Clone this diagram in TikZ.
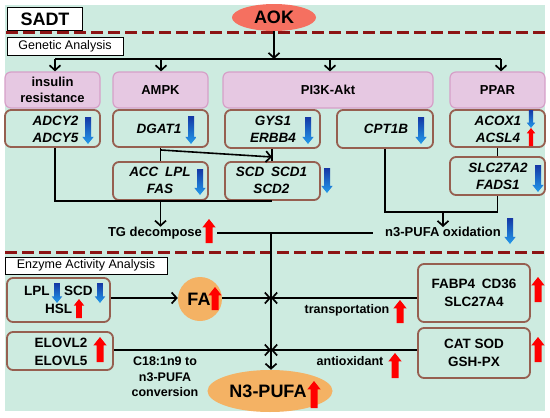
\documentclass[tikz,border=0pt]{standalone}
\usepackage{fontspec}
\setmainfont{Liberation Sans}
\usetikzlibrary{arrows.meta,shapes.geometric}
\definecolor{bgc}{RGB}{205,235,224}
\definecolor{pinkf}{RGB}{230,200,226}
\definecolor{pinkb}{RGB}{214,160,200}
\definecolor{brownb}{RGB}{150,95,80}
\definecolor{dashc}{RGB}{140,20,20}
\definecolor{aokc}{RGB}{245,112,96}
\definecolor{orc}{RGB}{244,178,100}
\definecolor{btop}{RGB}{20,55,165}
\definecolor{bbot}{RGB}{35,155,235}
% down blue arrow: x, ytop, ybottom, shaft half width
\newcommand\bdn[4]{%
  \shade[top color=btop,bottom color=bbot]
    ({#1-#4},{#2}) -- ({#1+#4},{#2}) -- ({#1+#4},{#3-2.4*#4}) -- ({#1+1.9*#4},{#3-2.4*#4})
    -- ({#1},{#3}) -- ({#1-1.9*#4},{#3-2.4*#4}) -- ({#1-#4},{#3-2.4*#4}) -- cycle;}
% up red arrow: x, ytop, ybottom, shaft half width
\newcommand\rup[4]{%
  \fill[red]
    ({#1-#4},{#3}) -- ({#1+#4},{#3}) -- ({#1+#4},{#2+2.4*#4}) -- ({#1+1.9*#4},{#2+2.4*#4})
    -- ({#1},{#2}) -- ({#1-1.9*#4},{#2+2.4*#4}) -- ({#1-#4},{#2+2.4*#4}) -- cycle;}
\begin{document}
\begin{tikzpicture}[x=1pt,y=-1pt,
  pinkbox/.style={draw=pinkb,fill=pinkf,line width=1.2pt,rounded corners=6pt,minimum height=36pt,inner sep=0pt,
    font=\bfseries\fontsize{13}{15.5}\selectfont,align=center},
  genebox/.style={draw=brownb,line width=1.8pt,rounded corners=6pt,inner sep=0pt},
  gtxt/.style={font=\bfseries\itshape\fontsize{13.5}{17}\selectfont,inner sep=0pt,align=center},
  etxt/.style={font=\bfseries\fontsize{13.5}{18}\selectfont,inner sep=0pt,align=center},
  ltxt/.style={font=\bfseries\fontsize{12.5}{15.5}\selectfont,inner sep=0pt,align=center},
  whitebox/.style={draw=black,fill=white,line width=0.8pt,inner sep=0pt},
  conn/.style={line width=1.6pt,black},
  tip/.style={-{Straight Barb[length=5pt,width=11pt,line width=1.7pt]}},
  dline/.style={dashc,line width=3pt,dash pattern=on 12pt off 5pt}
]
\useasboundingbox (0,0) rectangle (550,418);
\fill[bgc] (5,5) rectangle (545,411);

% header
\node[whitebox,minimum width=75pt,minimum height=23pt,font=\bfseries\fontsize{18}{20}\selectfont] (sadt) at (45,19) {SADT};
\node[ellipse,fill=aokc,minimum width=84pt,minimum height=27pt,inner sep=0pt,font=\bfseries\fontsize{18}{20}\selectfont] (aok) at (274,17.5) {AOK};
\draw[dline] (6,32) -- (545,32);
\node[whitebox,minimum width=116pt,minimum height=18pt,font=\fontsize{12.5}{14}\selectfont] (gen) at (65,46) {Genetic Analysis};

% distribution line
\coordinate (d1) at (55,59);
\coordinate (d2) at (161,59);
\coordinate (d3) at (330,59);
\coordinate (d4) at (501,59);
\coordinate (dm) at (274,59);

% pink boxes
\node[pinkbox,minimum width=95pt] (ins) at (52.5,90) {insulin\\resistance};
\node[pinkbox,minimum width=95pt] (ampk) at (160.5,90) {AMPK};
\node[pinkbox,minimum width=210pt] (pik) at (328,90) {PI3K-Akt};
\node[pinkbox,minimum width=95pt] (ppar) at (497.5,90) {PPAR};

\draw[conn,tip] (aok.south) -- (dm);
\draw[conn] (d1) -- (d4);
\draw[conn,tip] (d1) -- (d1 |- ins.north);
\draw[conn,tip] (d2) -- (d2 |- ampk.north);
\draw[conn,tip] (d3) -- (d3 |- pik.north);
\draw[conn,tip] (d4) -- (d4 |- ppar.north);

% gene boxes
\node[genebox,minimum width=95pt,minimum height=37pt] (adcy) at (52.5,128.5) {};
\node[genebox,minimum width=95pt,minimum height=37pt] (dgat) at (160.5,128.5) {};
\node[genebox,minimum width=95pt,minimum height=38pt] (gys) at (272.5,129) {};
\node[genebox,minimum width=96pt,minimum height=38pt] (cpt) at (385,129) {};
\node[genebox,minimum width=95pt,minimum height=37pt] (acox) at (497.5,128.5) {};
\node[genebox,minimum width=95pt,minimum height=38pt] (acc) at (160.5,181) {};
\node[genebox,minimum width=95pt,minimum height=38pt] (scd) at (272.5,181) {};
\node[genebox,minimum width=95pt,minimum height=38pt] (slc) at (497.5,176) {};

\node[gtxt] (tadcy) at (55.5,129) {ADCY2\\ADCY5};
\bdn{88}{117}{144}{3}
\node[gtxt] (tdgat) at (159,129) {DGAT1};
\bdn{191}{116}{144}{3}
\node[gtxt] (tgys) at (273,129.5) {GYS1\\ERBB4};
\bdn{308}{117}{144}{3}
\node[gtxt] (tcpt) at (386,128.5) {CPT1B};
\bdn{421}{117}{144}{3}
\node[gtxt] (tacox) at (498,129.5) {ACOX1\\ACSL4};
\bdn{531}{110}{128}{2.2}
\rup{531}{128}{146}{2.2}
\node[gtxt] (tacc) at (160,180.5) {ACC\enspace LPL\\FAS};
\bdn{200}{169}{195}{3}
\node[gtxt] (tscd) at (271.5,180.5) {SCD\enspace SCD1\\SCD2};
\bdn{327}{168}{193}{3}
\node[gtxt] (tslc) at (498,176) {SLC27A2\\FADS1};
\bdn{538}{165}{192}{3}

% genetic connectors
\coordinate (j1) at (161,150);
\coordinate (k1) at (272,157);
\draw[conn] (dgat.south) -- (acc.north);
\draw[conn,tip] (j1) -- (k1);
\draw[conn] (gys.south -| 272,0) -- (scd.north -| 272,0);
\draw[conn] (adcy.south -| 55,0) |- (scd.south -| 272,212) -- (scd.south -| 272,0);
\node[ltxt,font=\bfseries\fontsize{13}{15}\selectfont] (tg) at (155,233) {TG decompose};
\rup{209}{219}{243}{3.5}
\draw[conn,tip] (acc.south) -- (tg.north -| acc.south);
\draw[conn] (cpt.south) |- (slc.south |- 0,212) -- (slc.south);
\draw[conn] (acox.south) -- (slc.north);
\node[ltxt,font=\bfseries\fontsize{13}{15}\selectfont] (oxi) at (443,232) {n3-PUFA oxidation};
\bdn{510}{218}{244}{3}
\draw[conn,tip] (443,212) -- (oxi.north);
\coordinate (h1) at (217,233);
\coordinate (h2) at (373,233);
\draw[conn] (h1) -- (h2);

\draw[dline] (5,252) -- (545,252);
\node[whitebox,minimum width=162pt,minimum height=17pt,font=\fontsize{12.5}{14}\selectfont] (enz) at (86,265.5) {Enzyme Activity Analysis};

% enzyme section
\node[genebox,minimum width=103pt,minimum height=44pt] (lpl) at (58.5,300) {};
\node[etxt,anchor=west] (tlpl) at (24,291) {LPL};
\bdn{57}{283}{303}{2.8}
\node[etxt,anchor=west] (tscd2) at (64,291) {SCD};
\bdn{100}{283}{303}{2.8}
\node[etxt,anchor=west] (thsl) at (45,309) {HSL};
\rup{79}{299}{318}{2.8}

\node[genebox,minimum width=106pt,minimum height=38pt] (elo) at (60,351) {};
\node[etxt] (telo) at (61,352) {ELOVL2\\ELOVL5};
\rup{100}{337}{362}{3.5}

\node[genebox,minimum width=112pt,minimum height=58pt] (fabp) at (474,293) {};
\node[etxt] (tfabp) at (474,292.5) {FABP4\enspace CD36\\SLC27A4};
\rup{538}{277}{302}{3.5}

\node[genebox,minimum width=112pt,minimum height=50pt] (cat) at (474,353) {};
\node[etxt] (tcat) at (474,353) {CAT SOD\\GSH-PX};
\rup{538}{337}{362}{3.5}

\node[circle,fill=orc,minimum size=44pt,inner sep=0pt] (fa) at (200,299) {};
\node[etxt,font=\bfseries\fontsize{18}{20}\selectfont] (tfa) at (199,299.5) {FA};
\rup{215}{287}{310}{3.5}

\node[ellipse,fill=orc,minimum width=125pt,minimum height=42pt,inner sep=0pt] (npufa) at (270,391) {};
\node[etxt,font=\bfseries\fontsize{18}{20}\selectfont] (tnp) at (268,391) {N3-PUFA};
\rup{314}{381}{408}{3.5}

\coordinate (v) at (271,233);
\coordinate (vfa) at (271,298);
\coordinate (vel) at (271,350);
\draw[conn,tip] (v) -- (npufa.north -| v);
\draw[conn,tip] (lpl.east |- 0,298) -- (fa.west |- 0,298);
\draw[conn,tip] (fa.east |- 0,298) -- (vfa);
\draw[conn,tip] (fabp.west |- 0,298) -- (vfa);
\draw[conn,tip] (elo.east |- 0,350) -- (vel);
\draw[conn,tip] (cat.west |- 0,350) -- (vel);

\node[ltxt] (ttr) at (347,310) {transportation};
\rup{400}{300}{323}{3.5}
\node[ltxt] (tan) at (350,361) {antioxidant};
\rup{395}{353}{378}{3.5}
\node[ltxt] (tconv) at (165,377) {C18:1n9 to\\n3-PUFA\\conversion};
\end{tikzpicture}
\end{document}
